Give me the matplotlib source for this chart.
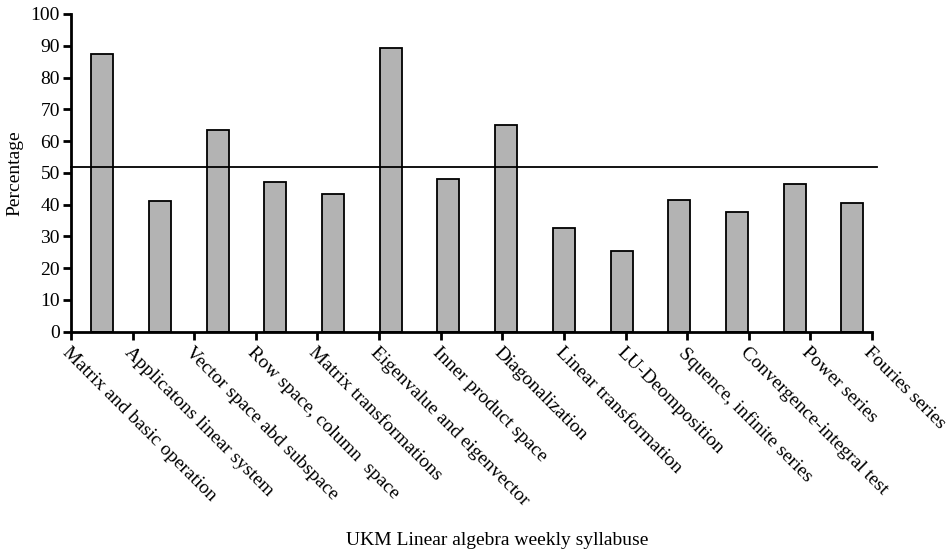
import numpy as np
import matplotlib.pyplot as plt

plt.rcParams["font.family"] = ["Liberation Serif", "DejaVu Serif"]

topics = [
    "Matrix and basic operation",
    "Applicatons linear system",
    "Vector space abd subspace",
    "Row space, column  space",
    "Matrix transformations",
    "Eigenvalue and eigenvector",
    "Inner product space",
    "Diagonalization",
    "Linear transformation",
    "LU-Deomposition",
    "Squence, infinite series",
    "Convergence-integral test",
    "Power series",
    "Fouries series",
]
percentages = [87.5, 41.0, 63.5, 47.2, 43.5, 89.3, 48.2, 65.2, 32.6, 25.3, 41.5, 37.8, 46.5, 40.6]
average = 51.7

fig = plt.figure(figsize=(9.53, 5.55), dpi=100)
ax = fig.add_axes([0.0745, 0.4023, 0.8405, 0.5725])

x = np.arange(len(topics))
ax.bar(x, percentages, width=0.38, color="#b3b3b3", edgecolor="black", linewidth=1.3, zorder=2)

# mean line, runs a little past the end of the axis
ax.axhline(average, xmin=0, xmax=1.006, color="black", linewidth=1.3, clip_on=False, zorder=3)

x0, x1 = -0.54, 13.34
ax.set_xlim(x0, x1)
ax.set_ylim(0, 100)
ax.set_yticks(range(0, 101, 10))

# category ticks are spread evenly over the axis, not under the bars
tick_pos = np.linspace(x0, x1, len(topics))
ax.set_xticks(tick_pos)
ax.set_xticklabels(topics, rotation=-45, ha="left", va="top", rotation_mode="anchor", fontsize=14)

ax.tick_params(axis="y", labelsize=14, length=6, width=2, direction="out", pad=2)
ax.tick_params(axis="x", length=6, width=2, direction="out", pad=3)

for side in ["top", "right"]:
    ax.spines[side].set_visible(False)
for side in ["left", "bottom"]:
    ax.spines[side].set_linewidth(2)

ax.set_ylabel("Percentage", fontsize=14, labelpad=5)
fig.text(0.522, 0.027, "UKM Linear algebra weekly syllabuse", ha="center", va="center", fontsize=14)

plt.savefig("out.png", dpi=100)
